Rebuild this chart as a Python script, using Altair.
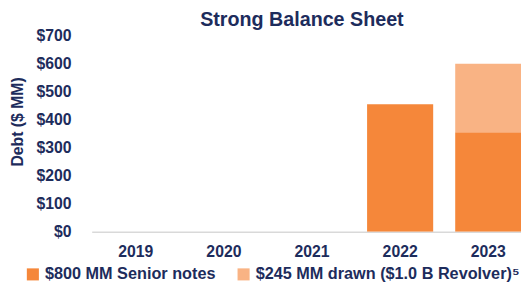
import altair as alt
import pandas as pd

years = ["2019", "2020", "2021", "2022", "2023"]
series_names = ["$800 MM Senior notes", "$245 MM drawn ($1.0 B Revolver)\u2075"]
senior_notes = [0, 0, 0, 455, 355]
revolver = [0, 0, 0, 0, 245]
y_ticks = [0, 100, 200, 300, 400, 500, 600, 700]

rows = []
for i, yr in enumerate(years):
    rows.append({"year": yr, "series": series_names[0], "value": senior_notes[i], "ord": 0})
    rows.append({"year": yr, "series": series_names[1], "value": revolver[i], "ord": 1})
df = pd.DataFrame(rows)

NAVY = "#1d2c5c"
FONT = "Liberation Sans"

chart = alt.Chart(df).mark_bar(clip=True).encode(
    x=alt.X("year:N", sort=years,
            scale=alt.Scale(domain=years, range=[0, 447.5], paddingInner=0.25, paddingOuter=0.125),
            axis=alt.Axis(title=None, labelAngle=0, ticks=False, tickSize=0, labelPadding=12,
                          domainColor="#d9d9d9", domainWidth=1.5,
                          labelFont=FONT, labelFontSize=16, labelFontWeight="bold", labelColor=NAVY)),
    y=alt.Y("value:Q", stack="zero",
            scale=alt.Scale(domain=[0, 700], nice=False),
            axis=alt.Axis(title="Debt ($ MM)", values=y_ticks, labelExpr="'$' + datum.value",
                          grid=False, domain=False, ticks=False, tickSize=0, labelPadding=21,
                          labelFont=FONT, labelFontSize=16, labelFontWeight="bold", labelColor=NAVY,
                          titleFont=FONT, titleFontSize=16, titleFontWeight="bold", titleColor=NAVY,
                          titleAngle=270, titleAlign="center", titleBaseline="middle",
                          titleX=-75, titleY=87)),
    color=alt.Color("series:N", sort=series_names,
                    scale=alt.Scale(domain=series_names, range=["#f5873a", "#f9b384"]),
                    legend=alt.Legend(title=None, orient="none", direction="horizontal",
                                      legendX=-68, legendY=234, symbolType="square", symbolSize=150,
                                      symbolStrokeWidth=0, labelOffset=4, columnPadding=20,
                                      padding=0, labelFont=FONT, labelFontSize=16.5,
                                      labelFontWeight="bold", labelColor=NAVY, labelLimit=400)),
    order=alt.Order("ord:Q"),
).properties(
    width=436,
    height=199,
    title=alt.TitleParams("Strong Balance Sheet", font=FONT, fontSize=20, fontWeight="bold",
                          color=NAVY, anchor="middle", dx=-4.5, dy=11, offset=9),
    autosize=alt.AutoSizeParams(type="none"),
    padding={"left": 85, "top": 26, "right": 0, "bottom": 54},
).configure_view(stroke=None)

chart.save("out.html", embed_options={"renderer": "svg", "actions": False})
